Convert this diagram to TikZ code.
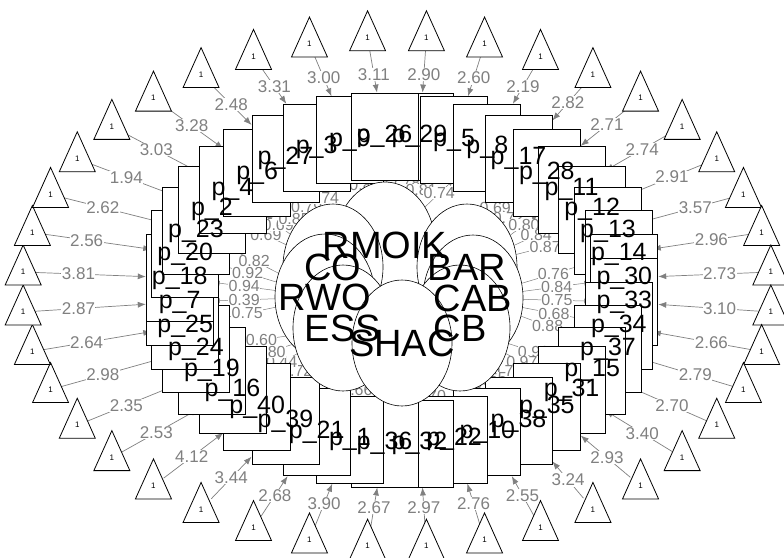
\documentclass[tikz,border=0pt]{standalone}
\usepackage{fontspec}
\setmainfont{Liberation Sans}
\usetikzlibrary{arrows.meta,shapes.geometric,calc}
\pgfdeclarelayer{bg}
\pgfsetlayers{bg,main}
\tikzset{
  mv/.style={draw, fill=white, line width=0.8pt, minimum width=67pt, minimum height=87pt, inner sep=0pt},
  mvlab/.style={inner sep=0pt, font=\fontsize{25}{25}\selectfont},
  lv/.style={ellipse, draw, fill=white, line width=0.6pt, minimum width=100pt, minimum height=126pt, inner sep=0pt},
  lvlab/.style={inner sep=0pt, font=\fontsize{38}{38}\selectfont},
  tri/.style={minimum width=20pt, minimum height=22pt, inner sep=0pt, font=\fontsize{8}{8}\selectfont},
  trishape/.style={draw=black, fill=white, line width=0.8pt, line join=miter},
  icpt/.style={draw=gray, line width=0.7pt, -{Latex[length=8pt,width=6pt]}},
  elab/.style={fill=white, text=gray, inner sep=0.5pt, font=\fontsize{17}{17}\selectfont},
  load/.style={draw=gray, line width=0.5pt, -{Latex[length=6pt,width=5pt]}},
  llab/.style={fill=white, text=gray, inner sep=0.3pt, font=\fontsize{16}{16}\selectfont},
}
\begin{document}
\begin{tikzpicture}[x=1pt,y=-1pt]
\begin{pgfonlayer}{bg}
\fill[white] (0,0) rectangle (784,557);
\end{pgfonlayer}
\useasboundingbox (0,0) rectangle (784,557);
% intercept triangles
\foreach \i in {0,...,39} {
  \pgfmathsetmacro\ang{85.5-9*\i}
  \pgfmathsetmacro\tx{397+375*cos(\ang)}
  \pgfmathsetmacro\ty{285-255*sin(\ang)}
  \filldraw[trishape] (\tx,\ty-20) -- (\tx+18,\ty+20) -- (\tx-18,\ty+20) -- cycle;
  \node[tri] (t\i) at (\tx,\ty+7) {1};
}
% manifest variables (boxes, then their labels on top)
\foreach \i in {0,...,39} {
  \pgfmathsetmacro\ang{85.5-9*\i}
  \node[mv] (b\i) at ({402+223*cos(\ang)},{290-154*sin(\ang)}) {};
}
\foreach \i/\lab in {0/29,1/5,2/8,3/17,4/28,5/11,6/12,7/13,8/14,9/30,10/33,11/34,12/37,13/15,14/31,15/35,16/38,17/10,18/22,19/32,20/36,21/1,22/21,23/39,24/40,25/16,26/19,27/24,28/25,29/7,30/18,31/20,32/23,33/2,34/4,35/6,36/27,37/3,38/9,39/26} {
  \node[mvlab] at (b\i) {p\_\lab};
}
% latent variables
\node[lv] (L0) at (385,245) {};
\node[lv] (L7) at (333,267) {};
\node[lv] (L1) at (467,267) {};
\node[lv] (L6) at (325,297) {};
\node[lv] (L2) at (473,298) {};
\node[lv] (L5) at (343,328) {};
\node[lv] (L3) at (460,328) {};
\node[lv] (L4) at (402,343) {};
\node[lvlab] at (L0) {RMOIK};
\node[lvlab] at (L7) {CO};
\node[lvlab] at (L1) {BAR};
\node[lvlab] at (L6) {RWO};
\node[lvlab] at (L2) {CAB};
\node[lvlab] at (L5) {ESS};
\node[lvlab] at (L3) {CB};
\node[lvlab] at (L4) {SHAC};
% edges
\begin{pgfonlayer}{bg}
\foreach \i/\v in {0/2.90,1/2.60,2/2.19,3/2.82,4/2.71,5/2.74,6/2.91,7/3.57,8/2.96,9/2.73,10/3.10,11/2.66,12/2.79,13/2.70,14/3.40,15/2.93,16/3.24,17/2.55,18/2.76,19/2.97,20/2.67,21/3.90,22/2.68,23/3.44,24/4.12,25/2.53,26/2.35,27/2.98,28/2.64,29/2.87,30/3.81,31/2.56,32/2.62,33/1.94,34/3.03,35/3.28,36/2.48,37/3.31,38/3.00,39/3.11} {
  \pgfmathsetmacro\lp{0.6-0.2*abs(cos(85.5-9*\i))}
  \draw[icpt] (t\i) -- (b\i) node[elab, pos=\lp] {\v};
}
\foreach \i/\v in {0/0.78,1/0.81,2/0.74,3/0.69,4/0.72,5/0.80,6/0.84,7/0.87,8/0.76,9/0.84,10/0.75,11/0.68,12/0.88,13/0.99,14/0.97,15/0.71,16/0.65,17/0.81,18/0.70,19/0.73,20/0.77,21/0.79,22/0.66,23/0.67,24/0.72,25/0.44,26/0.80,27/0.60,28/0.75,29/0.39,30/0.94,31/0.92,32/0.82,33/0.69,34/0.69,35/0.85,36/0.79,37/0.74,38/0.83,39/0.77} {
  \pgfmathtruncatemacro\k{floor(mod(\i+2,40)/5)}
  \draw[load] (L\k) -- (b\i) node[llab, pos=0.5] {\v};
}
\end{pgfonlayer}
\end{tikzpicture}
\end{document}
